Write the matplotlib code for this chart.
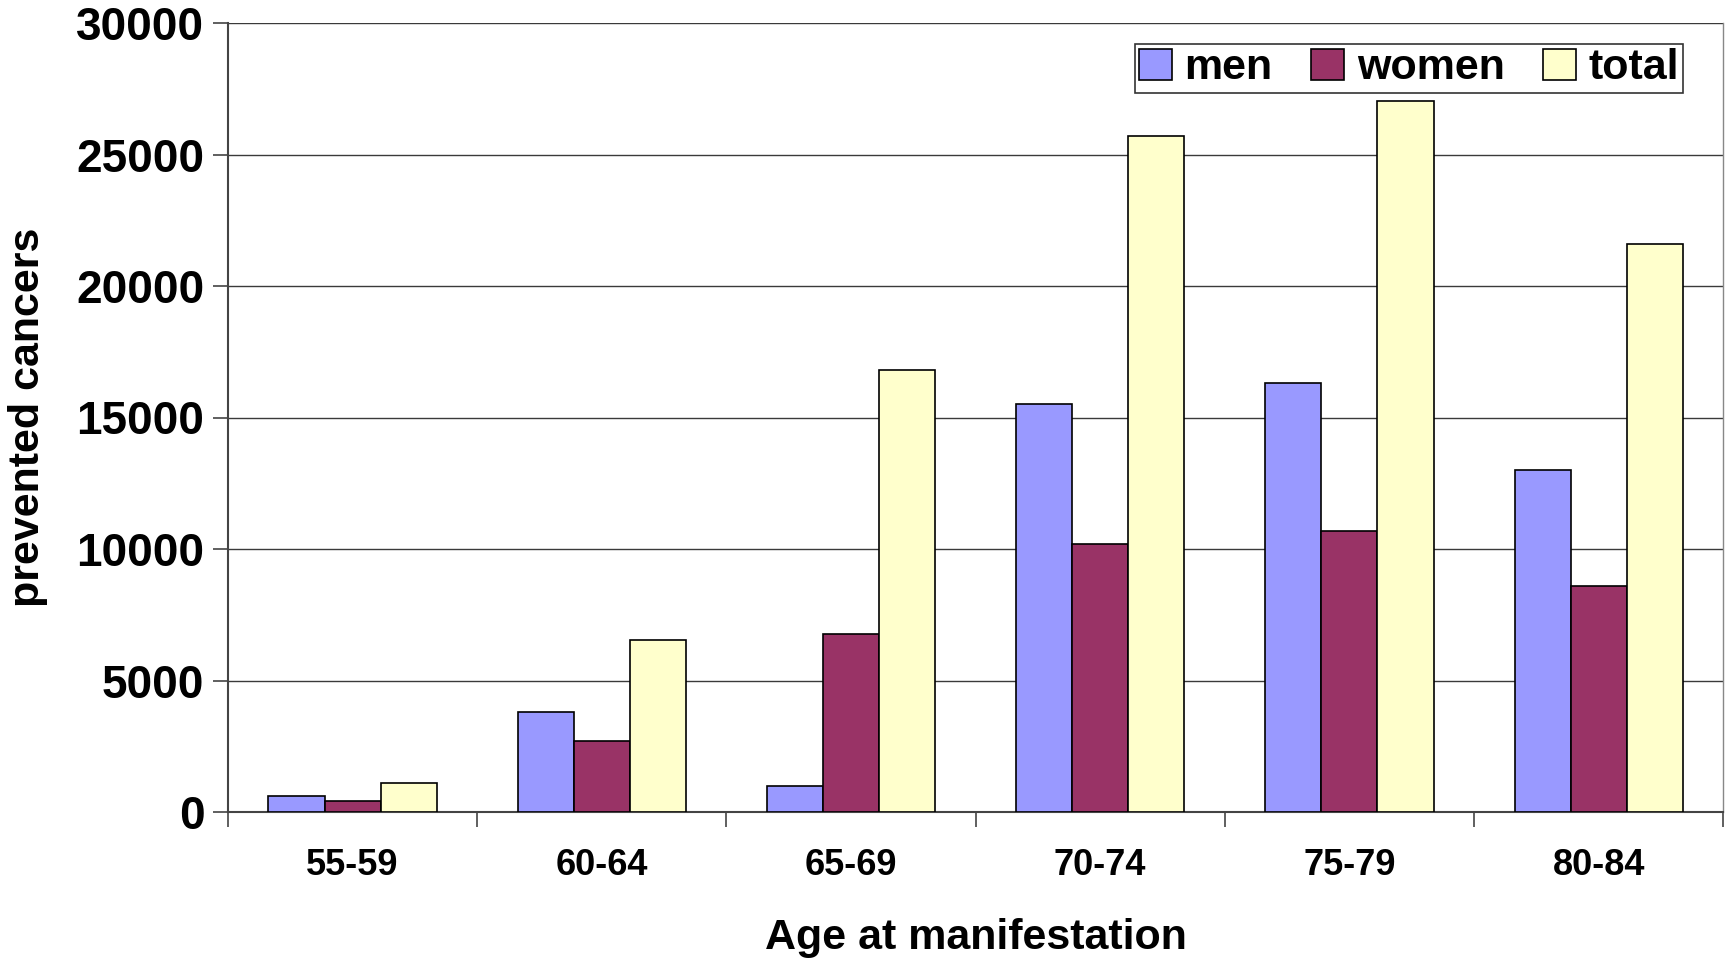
import matplotlib
matplotlib.use("Agg")
import matplotlib.pyplot as plt
import numpy as np

categories = ["55-59", "60-64", "65-69", "70-74", "75-79", "80-84"]
men = [600, 3800, 1000, 15500, 16300, 13000]
women = [400, 2700, 6750, 10200, 10700, 8600]
total = [1100, 6550, 16800, 25700, 27050, 21600]
series_names = ["men", "women", "total"]
colors = ["#9999FF", "#993366", "#FFFFCC"]
yticks = [0, 5000, 10000, 15000, 20000, 25000, 30000]

plt.rcParams['font.family'] = ['Liberation Sans', 'DejaVu Sans']
plt.rcParams['font.weight'] = 'bold'

fig = plt.figure(figsize=(17.25, 9.58), dpi=100)
ax = fig.add_axes([228/1725, 1 - 812/958, 1 - 228/1725 - 0.001, (812 - 23)/958])

x = np.arange(len(categories))
w = 0.225
for i, (vals, name, c) in enumerate(zip([men, women, total], series_names, colors)):
    ax.bar(x + (i - 1) * w, vals, width=w, color=c, edgecolor="black",
           linewidth=1.2, label=name, zorder=3)

ax.set_xlim(-0.5, len(categories) - 0.5)
ax.set_ylim(0, 30000)
ax.set_yticks(yticks)
ax.set_yticklabels([str(v) for v in yticks], fontsize=33, fontweight='bold')
ax.yaxis.grid(True, color="#3a3a3a", linewidth=1.0, zorder=0)

ax.set_xticks(x)
ax.set_xticklabels(categories, fontsize=26, fontweight='bold')
ax.set_xticks(np.arange(len(categories) + 1) - 0.5, minor=True)
ax.tick_params(axis='x', which='major', length=0, pad=26)
ax.tick_params(axis='x', which='minor', length=11, width=1.2, color="#444444")
ax.tick_params(axis='y', length=11, width=1.2, color="#444444", pad=6)

for s in ["left", "bottom"]:
    ax.spines[s].set_color("#444444")
    ax.spines[s].set_linewidth(1.5)
ax.spines["top"].set_visible(False)
ax.spines["right"].set_color("#888888")
ax.spines["right"].set_linewidth(1.0)

ax.set_xlabel("Age at manifestation", fontsize=31, fontweight='bold', labelpad=25)
ax.set_ylabel("prevented cancers", fontsize=31, fontweight='bold', labelpad=20)

leg = ax.legend(loc="upper right", bbox_to_anchor=(1 - 40/1497, 1.0 - 21/789),
                bbox_transform=ax.transAxes,
                ncol=3, fontsize=31, frameon=True, fancybox=False,
                edgecolor="black", handlelength=0.75, handleheight=0.75,
                handletextpad=0.3, columnspacing=0.9, borderpad=0.1,
                borderaxespad=0)
leg.get_frame().set_linewidth(1.2)
for t in leg.get_texts():
    t.set_fontweight('bold')

fig.savefig("out.png", dpi=100)
